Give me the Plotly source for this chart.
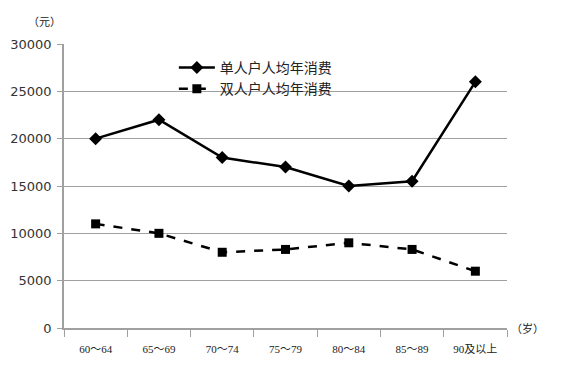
import plotly.graph_objects as go

categories = ["60～64", "65～69", "70～74", "75～79", "80～84", "85～89", "90及以上"]
single_values = [20000, 22000, 18000, 17000, 15000, 15500, 26000]
double_values = [11000, 10000, 8000, 8300, 9000, 8300, 6000]
y_ticks = [0, 5000, 10000, 15000, 20000, 25000, 30000]
y_tick_text = ["0", "5000", "10000", "15000", "20000", "25000", "30000"]

fig = go.Figure()
fig.add_trace(go.Scatter(
    x=categories, y=single_values, name="单人户人均年消费",
    mode="lines+markers",
    line=dict(color="black", width=2.5),
    marker=dict(symbol="diamond", size=10, color="black"),
))
fig.add_trace(go.Scatter(
    x=categories, y=double_values, name="双人户人均年消费",
    mode="lines+markers",
    line=dict(color="black", width=2.5, dash="dash"),
    marker=dict(symbol="square", size=9, color="black"),
))

fig.update_layout(
    width=553, height=372,
    margin=dict(l=56, r=54, t=36, b=52, autoexpand=False),
    paper_bgcolor="white", plot_bgcolor="white",
    showlegend=True,
    legend=dict(x=0.248, y=0.972, xanchor="left", yanchor="top",
                bgcolor="rgba(0,0,0,0)", font=dict(family="Noto Sans CJK SC", size=14, color="#222"),
                tracegroupgap=0, itemwidth=36),
    xaxis=dict(
        type="category", showgrid=False, showline=True, linecolor="#a0a0a0", linewidth=1.5,
        ticks="outside", tickson="boundaries", ticklen=7, tickcolor="#a0a0a0",
        tickfont=dict(family="Liberation Serif, Noto Sans CJK SC", size=11, color="#222"),
        ticklabelstandoff=10, automargin=False,
        range=[-0.5, 6.5],
    ),
    yaxis=dict(
        range=[0, 30000], tickvals=y_ticks, ticktext=y_tick_text,
        showgrid=True, gridcolor="#a0a0a0", gridwidth=1,
        showline=True, linecolor="#a0a0a0", linewidth=1.5, ticks="outside", ticklen=5,
        tickcolor="#a0a0a0", zeroline=False, automargin=False, ticklabelstandoff=3,
        tickfont=dict(family="DejaVu Sans, Noto Sans", size=13, color="#333"),
    ),
    annotations=[
        dict(text="（元）", xref="paper", yref="paper", x=-0.045, y=1.08, xanchor="center",
             yanchor="middle", showarrow=False, font=dict(family="Noto Sans CJK SC", size=11, color="#222")),
        dict(text="（岁）", xref="paper", yref="paper", x=1.005, y=0.0, xanchor="left",
             yanchor="middle", showarrow=False, font=dict(family="Noto Sans CJK SC", size=11, color="#222")),
    ],
)

fig.write_html("out.html")
